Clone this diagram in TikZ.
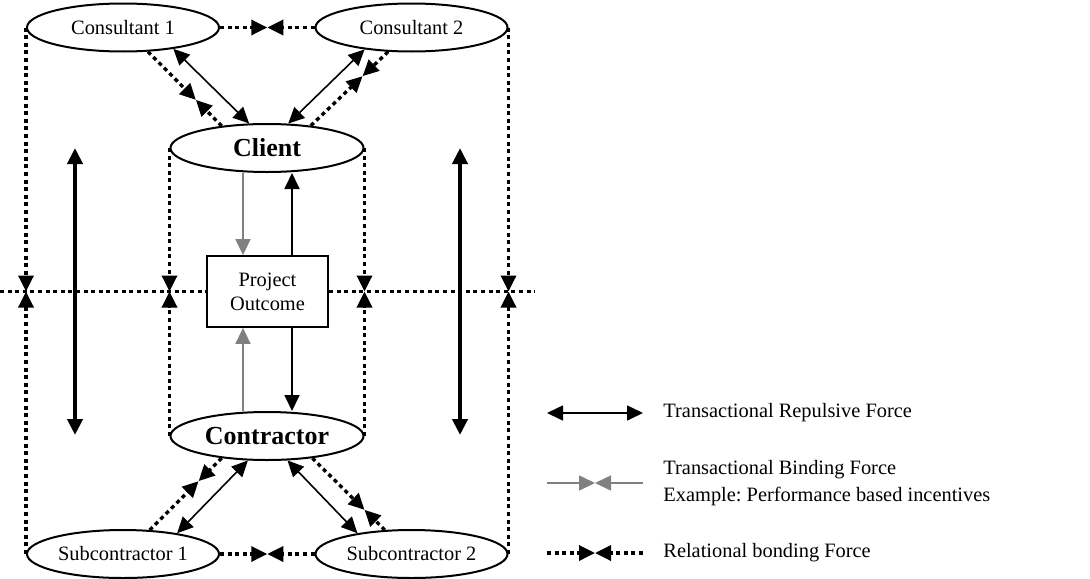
\documentclass[tikz,border=0pt]{standalone}
\usepackage{fontspec}
\setmainfont{Liberation Serif}
\usetikzlibrary{arrows.meta, calc, shapes.geometric}
\frenchspacing

\begin{document}
\begin{tikzpicture}[x=0.5pt, y=-0.5pt,
    >={Triangle[length=8pt, width=7.5pt]},
    txt/.style={font=\fontsize{10.2}{12}\selectfont},
    party/.style={txt, draw, line width=1pt, ellipse, inner sep=0pt,
        minimum width=96pt, minimum height=24pt},
    lead/.style={party, font=\fontsize{13}{15}\selectfont\bfseries},
    rep/.style={<->, line width=0.8pt},
    push/.style={->, line width=0.9pt},
    bind/.style={->, line width=0.8pt, black!50},
    rel/.style={->, line width=1.7pt, dash pattern=on 2pt off 1.8pt},
    dots/.style={line width=1.7pt, dash pattern=on 2pt off 1.8pt},
    big/.style={<->, line width=2pt},
    legend/.style={txt, anchor=west, inner sep=0pt, align=left}]
    \useasboundingbox (0,0) rectangle (1090,578);

    \node[party] (c1) at (123,27.5) {Consultant 1};
    \node[party] (c2) at (411.5,27.5) {Consultant 2};
    \node[lead, minimum width=96.5pt] (client) at (267,148) {Client};
    \node[txt, draw, line width=0.9pt, inner sep=0pt, align=center,
        minimum width=60.5pt, minimum height=35.5pt] (outcome) at (267.5,291.5) {Project\\Outcome};
    \node[lead, minimum width=96.5pt] (contractor) at (267,436) {Contractor};
    \node[party] (s1) at (123,554) {Subcontractor 1};
    \node[party] (s2) at (411.5,554) {Subcontractor 2};

    % relational bonds
    \coordinate (hl) at (0,291.5);
    \coordinate (hr) at (535,291.5);
    \draw[dots] (hl) -- (outcome.west);
    \draw[dots] (outcome.east) -- (hr);
    \foreach \up/\dn in {c1.west/s1.west, client.west/contractor.west,
        client.east/contractor.east, c2.east/s2.east} {
        \coordinate (m) at (\up |- outcome.center);
        \draw[rel] (\up) -- (m);
        \draw[rel] (\dn) -- (m);
    }
    \coordinate (ct) at ($(c1.east)!0.5!(c2.west)$);
    \draw[rel] (c1.east) -- (ct);
    \draw[rel] (c2.west) -- (ct);
    \coordinate (cb) at ($(s1.east)!0.5!(s2.west)$);
    \draw[rel] (s1.east) -- (cb);
    \draw[rel] (s2.west) -- (cb);

    % diagonals
    \draw[rep] (c1.-23.5) -- (client.126.5);
    \coordinate (d1) at ($(c1.-44)!0.65!(client.154)$);
    \draw[rel] (c1.-44) -- (d1);
    \draw[rel] (client.154) -- (d1);
    \draw[rep] (c2.-155) -- (client.49);
    \coordinate (d2) at ($(c2.-134)!0.33!(client.27.5)$);
    \draw[rel] (c2.-134) -- (d2);
    \draw[rel] (client.27.5) -- (d2);
    \draw[rep] (s1.21) -- (contractor.-128);
    \coordinate (d3) at ($(s1.42.5)!0.68!(contractor.-154)$);
    \draw[rel] (s1.42.5) -- (d3);
    \draw[rel] (contractor.-154) -- (d3);
    \draw[rep] (s2.159) -- (contractor.-50);
    \coordinate (d4) at ($(s2.138.7)!0.28!(contractor.-26.6)$);
    \draw[rel] (s2.138.7) -- (d4);
    \draw[rel] (contractor.-26.6) -- (d4);

    % client / contractor and the outcome
    \coordinate (g1) at ($(outcome.north)+(-24.5,0)$);
    \coordinate (b1) at ($(outcome.north)+(24.5,0)$);
    \coordinate (g2) at ($(outcome.south)+(-24.5,0)$);
    \coordinate (b2) at ($(outcome.south)+(24.5,0)$);
    \draw[bind] (g1 |- client.south) -- (g1);
    \draw[push] (b1) -- (b1 |- client.south);
    \draw[bind] (g2 |- contractor.north) -- (g2);
    \draw[push] (b2) -- (b2 |- contractor.north);

    \coordinate (tl1) at (75,148);
    \coordinate (tl2) at (75,435);
    \coordinate (tr1) at (460,148);
    \coordinate (tr2) at (460,435);
    \draw[big] (tl1) -- (tl2);
    \draw[big] (tr1) -- (tr2);

    % legend
    \node[legend] (legrep) at (663,413) {Transactional Repulsive Force};
    \node[legend, font=\fontsize{10.2}{13.5}\selectfont] (legbind) at (663,483.5)
        {Transactional Binding Force\\Example: Performance based incentives};
    \node[legend] (legrel) at (663,553) {Relational bonding Force};
    \coordinate (ra) at (547,413);
    \coordinate (rb) at (643,413);
    \draw[rep] (ra) -- (rb);
    \coordinate (ba) at (547,483);
    \coordinate (bm) at (595,483);
    \coordinate (bb) at (643,483);
    \draw[bind] (ba) -- (bm);
    \draw[bind] (bb) -- (bm);
    \coordinate (la) at (547,553);
    \coordinate (lm) at (595,553);
    \coordinate (lb) at (643,553);
    \draw[rel] (la) -- (lm);
    \draw[rel] (lb) -- (lm);
\end{tikzpicture}
\end{document}
